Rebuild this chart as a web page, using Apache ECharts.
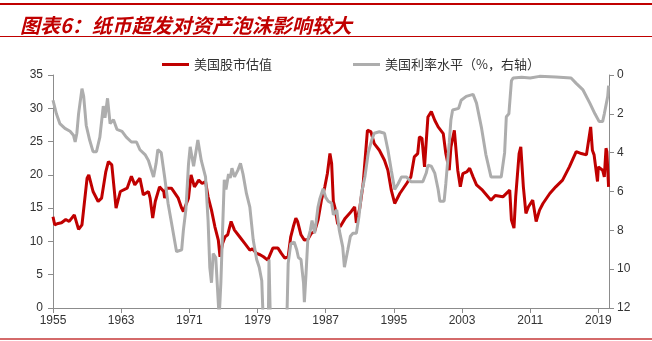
<!DOCTYPE html>
<html>
<head>
<meta charset="utf-8">
<script src="https://cdn.jsdelivr.net/npm/echarts@6/dist/echarts.min.js"></script>
<style>
html,body{margin:0;padding:0;background:#fff;}
#c{width:652px;height:341px;}
</style>
</head>
<body>
<div id="c"></div>
<script>
const titleText = '图表6：纸币超发对资产泡沫影响较大';
const seriesNames = ['美国股市估值', '美国利率水平（%，右轴）'];
const startYear = 1955;
const endYear = 2020.25;
const tickStep = 8;

const peYears = [1955.0,1955.2,1955.6,1956.0,1956.5,1956.9,1957.5,1958.0,1958.4,1959.0,1959.2,1959.7,1960.3,1960.7,1961.2,1961.5,1961.9,1962.4,1962.9,1963.7,1964.2,1964.6,1965.2,1965.6,1966.2,1966.4,1966.7,1967.0,1967.5,1968.0,1968.1,1968.3,1968.9,1969.7,1970.1,1970.3,1970.9,1971.2,1971.6,1971.8,1972.1,1972.5,1972.9,1973.2,1973.6,1974.0,1974.4,1974.6,1974.9,1975.2,1975.5,1975.9,1976.3,1976.9,1977.5,1978.1,1978.4,1978.9,1979.3,1979.7,1980.2,1980.8,1981.4,1981.8,1982.2,1982.6,1982.9,1983.2,1983.5,1983.7,1984.1,1984.5,1984.9,1985.3,1985.7,1986.1,1986.5,1986.9,1987.2,1987.5,1987.7,1987.9,1988.1,1988.4,1988.7,1989.3,1990.0,1990.4,1990.6,1991.0,1991.4,1991.9,1992.3,1992.7,1993.3,1993.9,1994.3,1994.7,1995.1,1995.7,1996.5,1997.0,1997.4,1997.8,1998.0,1998.3,1998.6,1999.0,1999.4,1999.8,2000.2,2000.8,2001.1,2001.5,2001.7,2002.1,2002.5,2002.8,2003.1,2003.6,2003.9,2004.3,2004.7,2005.4,2006.4,2006.9,2007.8,2008.6,2008.8,2009.1,2009.3,2009.7,2009.9,2010.2,2010.5,2010.8,2011.3,2011.7,2012.1,2012.5,2013.3,2014.0,2014.8,2015.6,2016.4,2017.0,2017.6,2018.1,2018.3,2018.5,2018.9,2019.0,2019.5,2019.7,2019.9,2020.0,2020.2];
const peValues = [13.7,12.5,12.7,12.8,13.3,13.0,14.0,11.8,12.5,19.5,20.0,17.5,16.0,16.5,20.5,22.0,21.5,15.0,17.5,18.0,19.8,18.5,19.5,17.0,17.5,16.5,13.5,16.0,18.2,17.5,16.5,18.0,18.0,16.5,15.0,14.5,16.5,20.0,18.2,18.0,19.2,18.7,19.0,16.7,14.7,12.2,10.2,7.7,9.7,10.7,11.0,13.0,11.7,10.7,9.7,8.7,8.9,8.2,8.0,7.7,7.2,9.0,9.0,8.2,7.5,7.7,10.7,12.2,13.5,13.0,11.0,10.2,10.3,11.2,11.5,13.2,16.2,18.2,20.2,23.2,21.7,16.0,15.0,12.7,12.2,13.5,14.5,15.2,12.8,15.0,18.7,26.7,26.5,24.7,23.7,22.2,20.7,17.7,15.7,17.2,18.7,19.7,22.7,23.2,25.7,25.5,21.2,28.7,29.5,28.2,27.2,26.2,23.2,20.7,24.2,26.7,20.7,18.2,20.2,20.5,21.0,19.7,18.5,17.7,16.2,16.9,16.7,17.7,13.2,12.0,16.7,23.2,24.2,18.2,14.2,15.2,16.2,13.0,14.7,15.7,17.2,18.2,19.2,21.2,23.5,23.2,23.0,27.2,23.7,23.0,19.0,21.2,20.7,19.7,24.0,23.5,18.2];

const rateYears = [1955.0,1955.4,1955.8,1956.4,1957.0,1957.4,1957.6,1957.8,1958.0,1958.4,1958.6,1958.9,1959.3,1959.7,1960.1,1960.5,1960.9,1961.1,1961.4,1961.7,1962.1,1962.5,1963.1,1963.6,1964.2,1964.8,1965.2,1965.8,1966.2,1966.8,1967.1,1967.3,1967.7,1968.1,1968.5,1968.9,1969.5,1970.1,1970.3,1970.6,1970.9,1971.1,1971.5,1972.0,1972.4,1972.9,1973.2,1973.4,1973.6,1973.8,1974.1,1974.5,1974.7,1974.9,1975.1,1975.3,1975.6,1975.8,1976.0,1976.3,1976.7,1977.0,1977.3,1977.7,1978.1,1978.5,1978.9,1979.2,1979.5,1979.7,1980.0,1980.2,1980.35,1980.5,1980.8,1981.0,1981.5,1981.9,1982.2,1982.45,1982.6,1982.9,1983.3,1983.6,1983.8,1984.1,1984.4,1984.5,1984.7,1984.9,1985.2,1985.4,1985.7,1985.9,1986.1,1986.3,1986.7,1987.0,1987.3,1987.7,1987.9,1988.3,1988.6,1989.0,1989.2,1989.6,1989.9,1990.2,1990.6,1990.9,1991.2,1991.6,1992.0,1992.4,1992.7,1993.3,1993.9,1994.3,1994.7,1995.1,1995.5,1995.9,1996.5,1997.0,1998.4,1998.8,1999.0,1999.4,1999.8,2000.2,2000.4,2000.9,2001.1,2001.5,2001.7,2001.9,2002.6,2002.9,2003.5,2004.3,2004.7,2005.3,2005.8,2006.4,2007.6,2008.0,2008.2,2008.5,2008.8,2009.0,2010.0,2011.0,2012.1,2014.0,2015.8,2016.4,2017.2,2018.0,2018.6,2019.1,2019.5,2019.7,2019.9,2020.0,2020.1,2020.2];
const rateValues = [1.3,2.0,2.5,2.75,2.9,3.1,3.45,3.0,2.0,0.7,1.1,2.6,3.35,3.95,3.95,3.2,1.6,2.2,1.2,2.5,2.3,2.8,2.9,3.2,3.45,3.45,3.85,4.1,4.4,5.25,4.55,3.85,4.0,5.25,6.6,7.6,9.1,9.0,8.0,6.9,4.6,3.7,4.7,3.35,4.4,5.25,7.5,9.9,10.7,9.2,9.4,12.5,10.7,8.0,5.4,5.9,5.1,5.3,4.8,5.25,4.9,4.55,5.1,6.1,6.8,8.5,9.5,9.9,10.6,13.0,14.0,15.5,9.5,12.5,15.0,18.0,19.0,14.0,14.5,12.5,9.7,8.7,8.6,9.0,9.4,9.5,10.7,11.7,10.2,8.5,8.0,7.5,8.15,7.5,6.8,6.4,5.85,6.3,6.5,6.6,7.2,6.95,8.0,8.85,9.9,9.0,8.3,8.15,8.15,7.3,6.1,5.25,4.0,3.35,3.0,2.92,3.0,3.85,4.9,5.9,5.6,5.25,5.25,5.5,5.5,5.05,4.65,4.7,5.05,5.9,6.5,6.5,5.6,3.5,2.3,1.8,1.72,1.3,1.1,1.0,1.45,2.75,4.1,5.25,5.25,4.0,2.15,2.0,0.3,0.15,0.12,0.15,0.07,0.1,0.15,0.43,0.77,1.45,2.0,2.4,2.4,2.0,1.55,1.6,1.1,0.55];

const toPairs = (ys, vs) => ys.map((y, i) => [y - startYear, vs[i]]);

const chart = echarts.init(document.getElementById('c'), null, {renderer: 'canvas'});
const axisColor = '#8c8c8c';
const labelStyle = {color: '#333', fontSize: 12, fontFamily: 'Liberation Sans, Arial, sans-serif'};

chart.setOption({
  animation: false,
  backgroundColor: '#fff',
  title: {
    text: titleText,
    left: 15, top: 10,
    textStyle: {color: '#C00000', fontSize: 20, fontStyle: 'italic', fontWeight: 'bold', fontFamily: 'Noto Sans CJK SC'}
  },
  graphic: [
    {type: 'rect', shape: {x: 0, y: 3, width: 652, height: 2}, style: {fill: '#C00000'}, silent: true},
    {type: 'rect', shape: {x: 0, y: 36, width: 652, height: 1}, style: {fill: '#C00000'}, silent: true},
    {type: 'rect', shape: {x: 0, y: 338, width: 652, height: 2}, style: {fill: '#D46A6A'}, silent: true}
  ],
  legend: {
    left: 157, top: 53,
    itemWidth: 27, itemHeight: 3, itemGap: 81,
    icon: 'rect',
    textStyle: {color: '#333', fontSize: 13, fontFamily: 'Noto Sans CJK SC'},
    data: seriesNames
  },
  grid: {left: 53, right: 43, top: 75, bottom: 33, containLabel: false},
  xAxis: {
    type: 'value', min: 0, max: endYear - startYear, interval: tickStep,
    axisLine: {show: true, lineStyle: {color: axisColor, width: 1}},
    axisTick: {show: true, length: 5, lineStyle: {color: axisColor}},
    splitLine: {show: false},
    axisLabel: Object.assign({}, labelStyle, {
      margin: 7, showMaxLabel: false,
      formatter: v => (Math.abs(v % tickStep) < 1e-6 ? String(startYear + v) : '')
    })
  },
  yAxis: [
    {
      type: 'value', min: 0, max: 35, interval: 5, position: 'left',
      axisLine: {show: true, lineStyle: {color: axisColor}},
      axisTick: {show: true, length: 5, lineStyle: {color: axisColor}},
      splitLine: {show: false},
      axisLabel: Object.assign({}, labelStyle, {margin: 10})
    },
    {
      type: 'value', min: 0, max: 12, interval: 2, position: 'right', inverse: true,
      axisLine: {show: true, lineStyle: {color: axisColor}},
      axisTick: {show: true, length: 5, lineStyle: {color: axisColor}},
      splitLine: {show: false},
      axisLabel: Object.assign({}, labelStyle, {margin: 8})
    }
  ],
  series: [
    {
      name: seriesNames[0], type: 'line', yAxisIndex: 0, showSymbol: false, clip: true,
      data: toPairs(peYears, peValues),
      itemStyle: {color: '#C00000'},
      lineStyle: {color: '#C00000', width: 3}
    },
    {
      name: seriesNames[1], type: 'line', yAxisIndex: 1, showSymbol: false, clip: true,
      data: toPairs(rateYears, rateValues),
      itemStyle: {color: '#ADADAD'},
      lineStyle: {color: '#ADADAD', width: 3}
    }
  ]
});
</script>
</body>
</html>
